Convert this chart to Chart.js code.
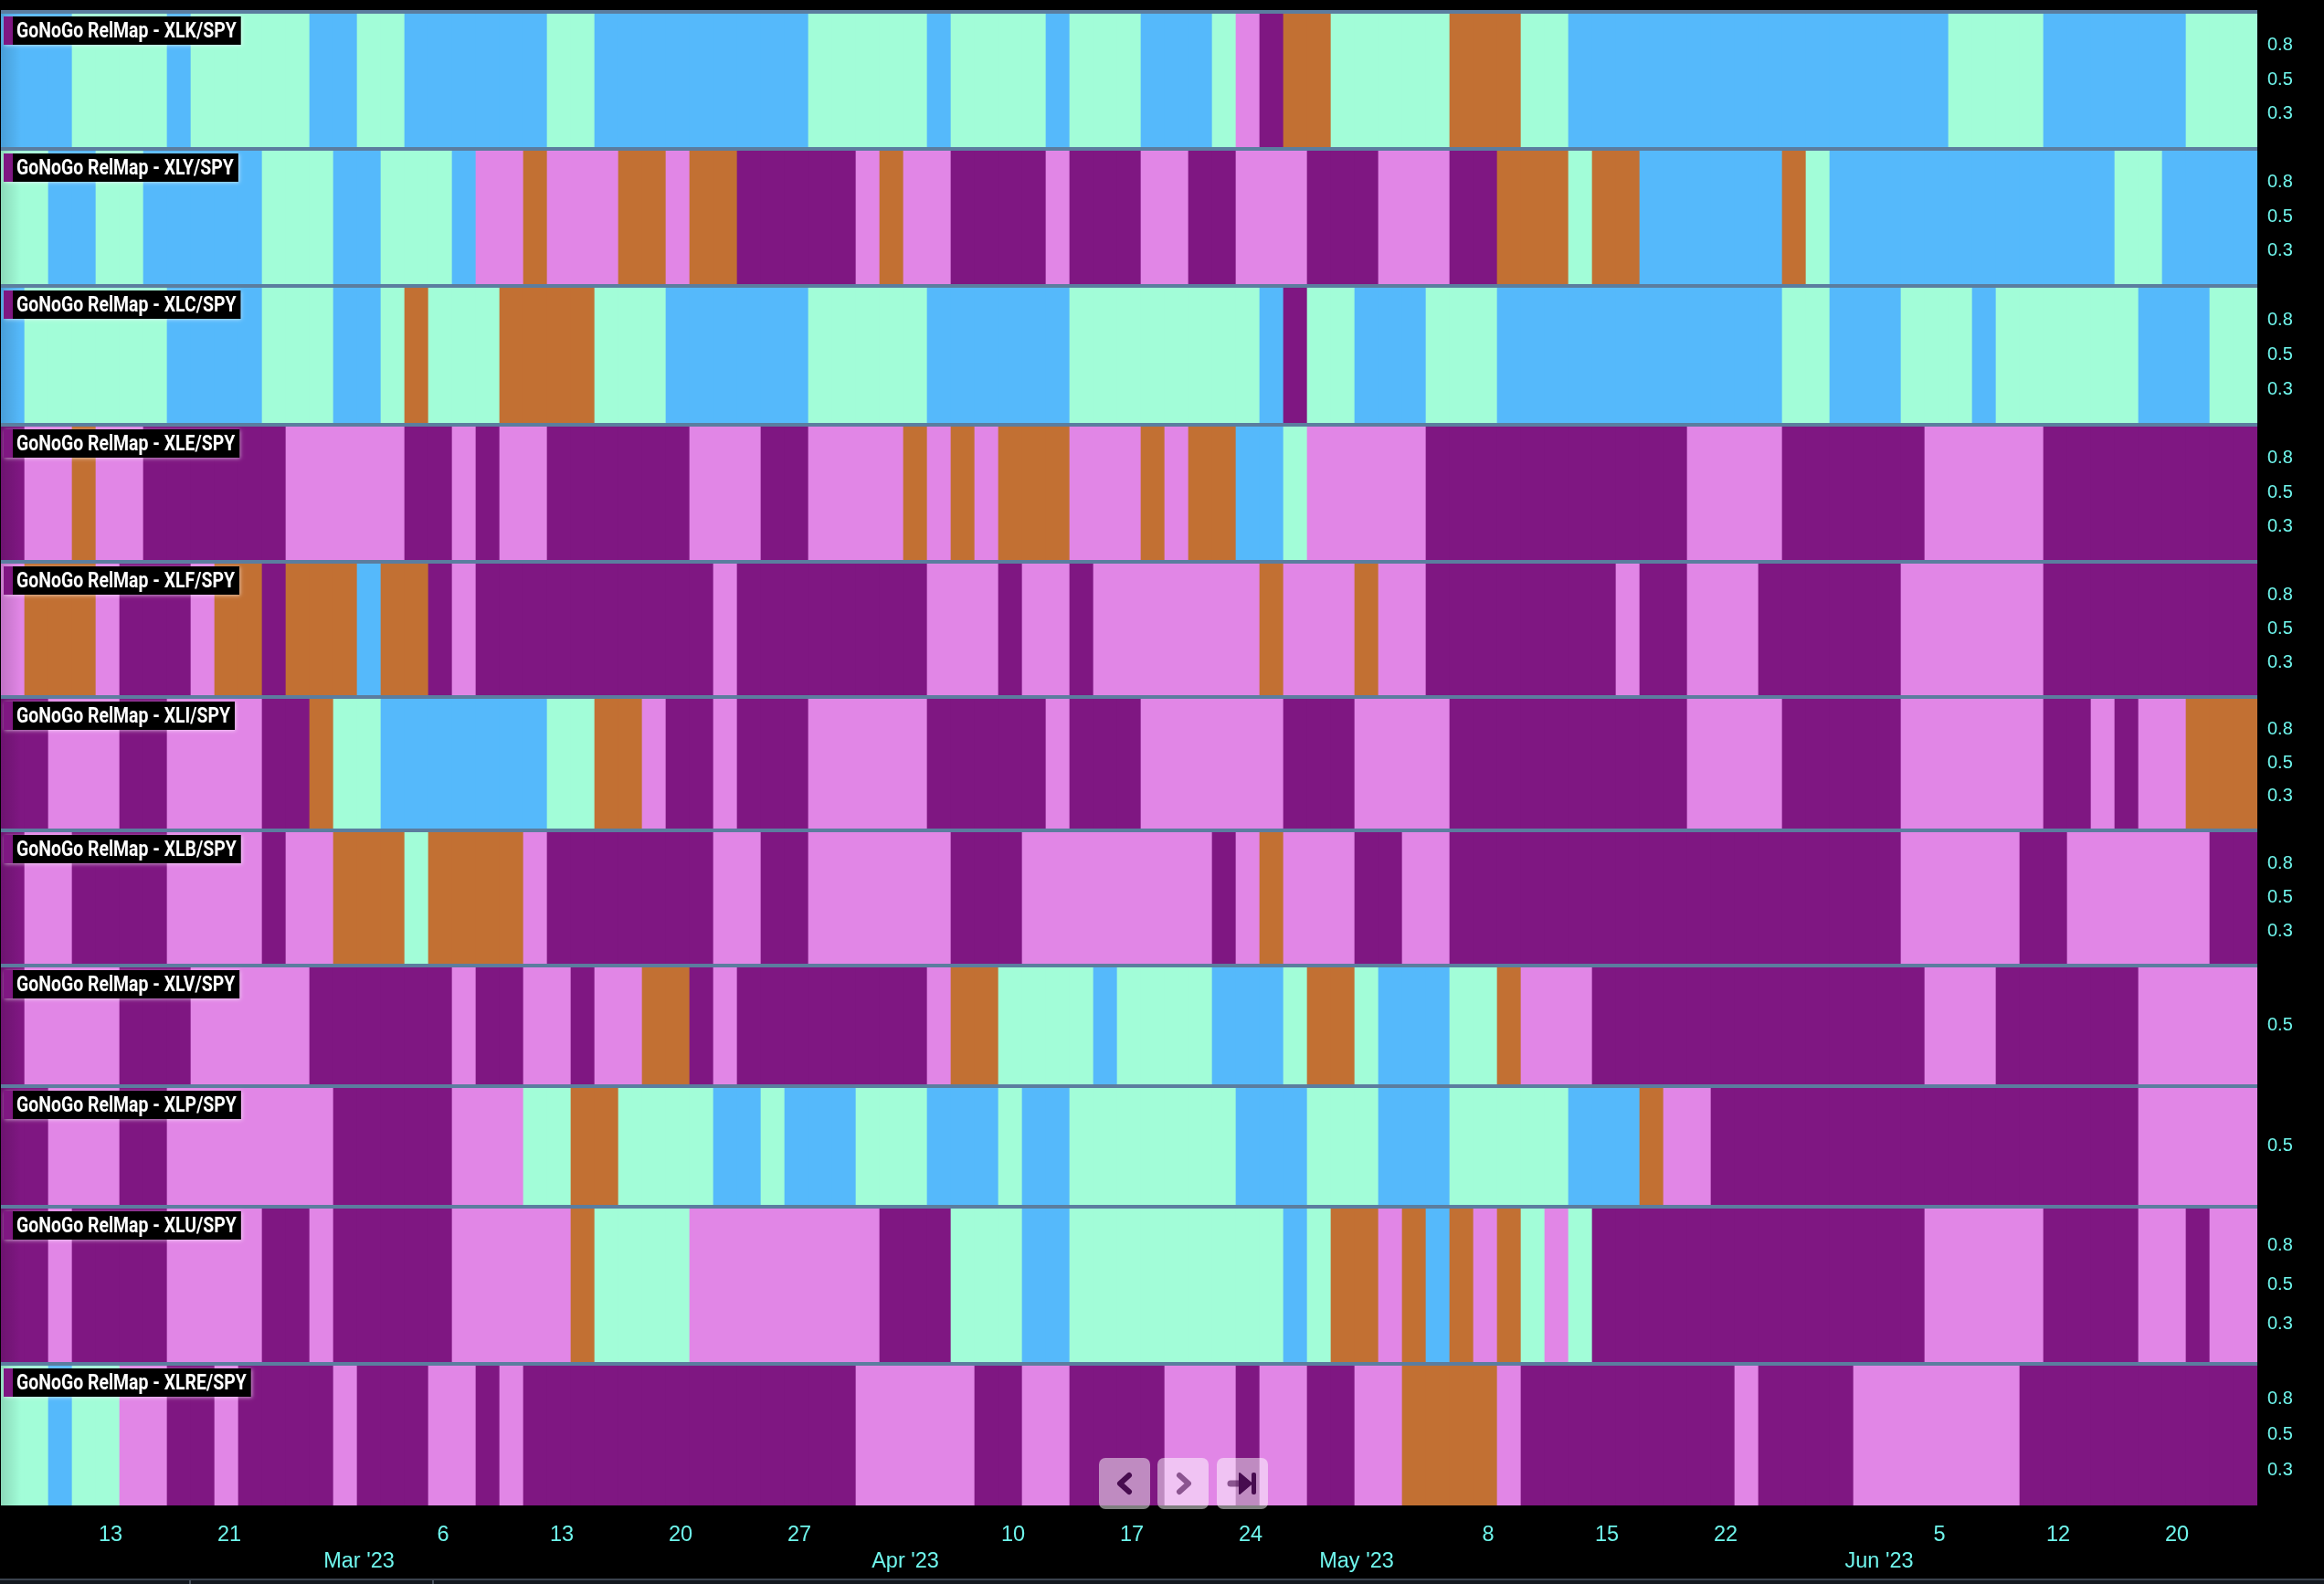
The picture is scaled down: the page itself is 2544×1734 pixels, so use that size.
<!DOCTYPE html>
<html>
<head>
<meta charset="utf-8">
<title>GoNoGo RelMap</title>
<script src="https://cdn.jsdelivr.net/npm/chart.js@4"></script>
<style>
    html, body { margin: 0; background: #000; overflow: hidden; }
    #wrap { position: relative; width: 2544px; height: 1734px; }
    canvas { display: block; }
    .nav {
        position: absolute; top: 1596px; width: 56px; height: 56px; border-radius: 7px;
        background: rgba(255,255,255,0.5);
    }
    .nav svg { position: absolute; left: 0; top: 0; }
    #footer {
        position: absolute; left: 0; top: 1728px; width: 2544px; height: 6px;
        background: #14191f; border-top: 2px solid #3a424d; box-sizing: border-box;
    }
    .notch { position: absolute; top: 0; width: 2px; height: 4px; background: #4a525d; }
</style>
</head>
<body>
<div id="wrap">
    <canvas id="relmap" width="2544" height="1734"></canvas>
    <div class="nav" style="left:1203px">
        <svg width="56" height="56"><path d="M33 19 L23 28 L33 37" fill="none" stroke="#470c4f" stroke-width="6" stroke-linecap="round" stroke-linejoin="round"/></svg>
    </div>
    <div class="nav" style="left:1267px">
        <svg width="56" height="56"><path d="M24 19 L34 28 L24 37" fill="none" stroke="#470c4f" stroke-opacity="0.6" stroke-width="6" stroke-linecap="round" stroke-linejoin="round"/></svg>
    </div>
    <div class="nav" style="left:1332px">
        <svg width="56" height="56">
            <path d="M15 28 L30 28" stroke="#470c4f" stroke-opacity="0.6" stroke-width="7" stroke-linecap="round"/>
            <path d="M25 17 L38 28 L25 39 Z" fill="#470c4f" stroke="#470c4f" stroke-width="2" stroke-linejoin="round"/>
            <rect x="38" y="16" width="5" height="24" rx="2" fill="#470c4f"/>
        </svg>
    </div>
    <div id="footer">
        <div class="notch" style="left:207px"></div>
        <div class="notch" style="left:473px"></div>
    </div>
</div>
<script>
// state per run: letter + number of trading days
// B strong go, A weak go, P strong nogo, K weak nogo, O neutral
const XLK = ['B3','A4','B1','A5','B2','A2','B6','A2','B9','A5','B1','A4','B1','A3','B3','A1','K1','P1','O2','A5','O3','A2','B16','A4','B6','A3'];
const XLY = ['A2','B2','A2','B5','A3','B2','A3','B1','K2','O1','K3','O2','K1','O2','P5','K1','O1','K2','P4','K1','P3','K2','P2','K3','P3','K3','P2','O3','A1','O2','B6','O1','A1','B12','A2','B4'];
const XLC = ['B1','A6','B4','A3','B2','A1','O1','A3','O4','A3','B6','A5','B6','A8','B1','P1','A2','B3','A3','B12','A2','B3','A3','B1','A6','B3','A2'];
const XLE = ['P1','K2','O1','K2','P6','K5','P2','K1','P1','K2','P6','K3','P2','K4','O1','K1','O1','K1','O3','K3','O1','K1','O2','B2','A1','K5','P11','K4','P6','K5','P9'];
const XLF = ['K1','O3','K1','P3','K1','O2','P1','O3','B1','O2','P1','K1','P10','K1','P8','K3','P1','K2','P1','K7','O1','K3','O1','K2','P8','K1','P2','K3','P6','K6','P9'];
const XLI = ['P2','K3','P2','K4','P2','O1','A2','B7','A2','O2','K1','P2','K1','P3','K5','P5','K1','P3','K6','P3','K4','P10','K4','P5','K6','P2','K1','P1','K2','O3'];
const XLB = ['P1','K2','P4','K4','P1','K2','O3','A1','O4','K1','P7','K2','P2','K6','P3','K8','P1','K1','O1','K3','P2','K2','P19','K5','P2','K6','P2'];
const XLV = ['P1','K4','P3','K5','P6','K1','P2','K2','P1','K2','O2','P1','K1','P8','K1','O2','A4','B1','A4','B3','A1','O2','A1','B3','A2','O1','K3','P14','K3','P6','K5'];
const XLP = ['P2','K3','P2','K7','P5','K3','A2','O2','A4','B2','A1','B3','A3','B3','A1','B2','A7','B3','A3','B3','A5','B3','O1','K2','P18','K5'];
const XLU = ['P2','K1','P4','K4','P2','K1','P5','K5','O1','A4','K8','P3','A3','B2','A9','B1','A1','O2','K1','O1','B1','O1','K1','O1','A1','K1','A1','P14','K5','P4','K2','P1','K2'];
const XLRE = ['A2','B1','A2','K2','P2','K1','P4','K1','P3','K2','P1','K1','P14','K5','P2','K2','P4','K3','P1','K2','P2','K2','O4','K1','P9','K1','P4','K7','P10'];

const tradingDays = [
    '02-07','02-08','02-09','02-10','02-13','02-14','02-15','02-16','02-17','02-21','02-22','02-23','02-24','02-27','02-28',
    '03-01','03-02','03-03','03-06','03-07','03-08','03-09','03-10','03-13','03-14','03-15','03-16','03-17','03-20','03-21','03-22','03-23','03-24','03-27','03-28','03-29','03-30','03-31',
    '04-03','04-04','04-05','04-06','04-10','04-11','04-12','04-13','04-14','04-17','04-18','04-19','04-20','04-21','04-24','04-25','04-26','04-27','04-28',
    '05-01','05-02','05-03','05-04','05-05','05-08','05-09','05-10','05-11','05-12','05-15','05-16','05-17','05-18','05-19','05-22','05-23','05-24','05-25','05-26','05-30','05-31',
    '06-01','06-02','06-05','06-06','06-07','06-08','06-09','06-12','06-13','06-14','06-15','06-16','06-20','06-21','06-22','06-23'
];
const dayTicks = ['02-13','02-21','03-06','03-13','03-20','03-27','04-10','04-17','04-24','05-08','05-15','05-22','06-05','06-12','06-20'];
const monthTicks = ['03-01','04-03','05-01','06-01'];
const monthNames = ["Mar '23","Apr '23","May '23","Jun '23"];

const paneNames = ['XLK/SPY','XLY/SPY','XLC/SPY','XLE/SPY','XLF/SPY','XLI/SPY','XLB/SPY','XLV/SPY','XLP/SPY','XLU/SPY','XLRE/SPY'];
const paneRuns = [XLK, XLY, XLC, XLE, XLF, XLI, XLB, XLV, XLP, XLU, XLRE];
const paneHeights = [150, 150, 152, 150, 148, 146, 148, 132, 132, 172, 157];
const fullTicks = [0.25, 0.5, 0.75];
const midTicks = [0.5];
const paneTicks = [fullTicks, fullTicks, fullTicks, fullTicks, fullTicks, fullTicks, fullTicks, midTicks, midTicks, fullTicks, fullTicks];

const STATE_COLORS = { B: '#55b9fb', A: '#a2fdd8', P: '#7f1782', K: '#e186e6', O: '#c27033' };
const TEXT_COLOR = '#6ff5ec';
const SEPARATOR = '#5b7d9f';
const AXIS_FONT = 'Liberation Sans';

function expandRuns(runs) {
    return runs.flatMap(r => Array(parseInt(r.slice(1))).fill(r[0]));
}

// axes must not push the plot area in for their overhanging labels
function noPadding(scale) {
    scale.paddingLeft = 0;
    scale.paddingRight = 0;
    scale.paddingTop = 0;
    scale.paddingBottom = 0;
}

const datasets = paneRuns.map((runs, i) => {
    const states = expandRuns(runs);
    return {
        label: paneNames[i],
        yAxisID: 'y' + i,
        data: states.map(() => 1),
        backgroundColor: states.map(s => STATE_COLORS[s]),
        borderWidth: 0,
        grouped: false,
        barPercentage: 1,
        categoryPercentage: 1
    };
});

const scales = {
    x: {
        type: 'category',
        position: 'bottom',
        offset: true,
        grid: { display: false, drawTicks: false },
        border: { display: false },
        afterFit: (scale) => { noPadding(scale); scale.height = 46; },
        ticks: {
            autoSkip: false,
            maxRotation: 0,
            minRotation: 0,
            padding: 18,
            labelOffset: 3,
            color: TEXT_COLOR,
            font: { family: AXIS_FONT, size: 23.5 },
            callback: (value) => {
                const day = tradingDays[value];
                return dayTicks.includes(day) ? String(parseInt(day.slice(3))) : '';
            }
        }
    },
    month: {
        type: 'category',
        position: 'bottom',
        offset: true,
        grid: { display: false, drawTicks: false },
        border: { display: false },
        afterFit: (scale) => { noPadding(scale); scale.height = 40; },
        ticks: {
            autoSkip: false,
            maxRotation: 0,
            minRotation: 0,
            padding: 1,
            labelOffset: -11,
            color: TEXT_COLOR,
            font: { family: AXIS_FONT, size: 23.5 },
            callback: (value) => {
                const pos = monthTicks.indexOf(tradingDays[value]);
                return pos >= 0 ? monthNames[pos] : '';
            }
        }
    }
};

paneNames.forEach((name, i) => {
    scales['y' + i] = {
        type: 'linear',
        position: 'right',
        stack: 'panes',
        stackWeight: paneHeights[i],
        min: 0,
        max: 1,
        grid: { display: false, drawTicks: false },
        border: { display: false },
        afterBuildTicks: (scale) => { scale.ticks = paneTicks[i].map(value => ({ value })); },
        afterFit: (scale) => { noPadding(scale); scale.width = 73; },
        ticks: {
            padding: 11,
            labelOffset: 1,
            color: TEXT_COLOR,
            font: { family: AXIS_FONT, size: 20 },
            callback: (value) => value.toFixed(1)
        }
    };
});

// separators on top of each pane and the small black title tag
const paneDecor = {
    id: 'paneDecor',
    afterDatasetsDraw(chart) {
        const { ctx, chartArea } = chart;

        const shade = ctx.createLinearGradient(chartArea.left, 0, chartArea.left + 22, 0);
        shade.addColorStop(0, 'rgba(0,0,0,0.14)');
        shade.addColorStop(1, 'rgba(0,0,0,0)');
        ctx.fillStyle = shade;
        ctx.fillRect(chartArea.left, chartArea.top, 22, chartArea.bottom - chartArea.top);

        paneNames.forEach((name, i) => {
            const scale = chart.scales['y' + i];
            const top = scale.top;

            ctx.fillStyle = SEPARATOR;
            ctx.fillRect(chartArea.left, top, chartArea.right - chartArea.left, 4);

            const text = 'GoNoGo RelMap - ' + name;
            ctx.font = 'bold 24px Roboto';
            const squeeze = 0.81;
            const textWidth = ctx.measureText(text).width * squeeze;

            ctx.save();
            ctx.shadowColor = 'rgba(255,255,255,0.55)';
            ctx.shadowBlur = 4;
            ctx.shadowOffsetX = 1;
            ctx.shadowOffsetY = 1;
            ctx.fillStyle = '#000';
            ctx.fillRect(4, top + 7, 14 + textWidth + 5, 31);
            ctx.restore();

            ctx.fillStyle = STATE_COLORS.P;
            ctx.fillRect(4, top + 7, 10, 31);

            ctx.save();
            ctx.translate(18, top + 24);
            ctx.scale(squeeze, 1);
            ctx.fillStyle = '#fff';
            ctx.textAlign = 'left';
            ctx.textBaseline = 'middle';
            ctx.fillText(text, 0, 0);
            ctx.restore();
        });
    }
};

new Chart(document.getElementById('relmap').getContext('2d'), {
    type: 'bar',
    data: { labels: tradingDays, datasets: datasets },
    plugins: [paneDecor],
    options: {
        responsive: false,
        animation: false,
        devicePixelRatio: 1,
        layout: { padding: { left: 1, top: 11, right: 0, bottom: 0 } },
        plugins: {
            legend: { display: false },
            tooltip: { enabled: false }
        },
        scales: scales
    }
});
</script>
</body>
</html>
